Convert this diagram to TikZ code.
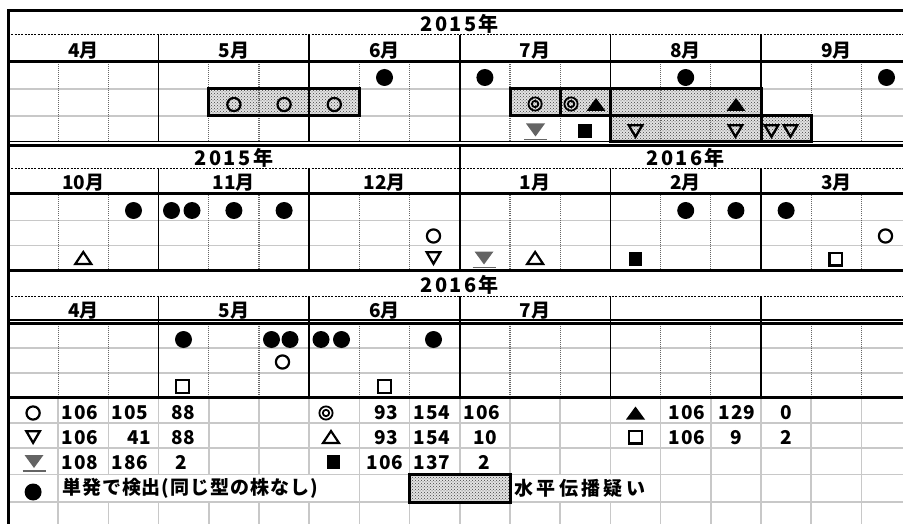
\documentclass[tikz,border=0pt]{standalone}
\usepackage{fontspec}
\setmainfont{Noto Sans CJK JP}
\newfontfamily\wideyear{Noto Sans CJK JP}[LetterSpace=12]
\newfontfamily\widenum{Noto Sans CJK JP}[LetterSpace=4]
\newfontfamily\widenote{Noto Sans CJK JP}[LetterSpace=5]
\newfontfamily\widetxt{Noto Sans CJK JP}[LetterSpace=18]
\usetikzlibrary{patterns}

\definecolor{rulegray}{RGB}{200,200,200}
\definecolor{markgray}{RGB}{100,100,100}

% значки
\newcommand{\mkDot}[2]{\fill (#1,#2) circle[radius=8.5pt];}
\newcommand{\mkRing}[2]{\draw[line width=2.2pt] (#1,#2) circle[radius=6.6pt];}
\newcommand{\mkDRing}[2]{\draw[line width=1.8pt] (#1,#2) circle[radius=6.6pt] (#1,#2) circle[radius=3.2pt];}
\newcommand{\mkUpF}[2]{\fill (#1,#2) ++(-9.5,6.5) -- ++(19,0) -- ++(-9.5,-13) -- cycle;}
\newcommand{\mkUp}[2]{\draw[line width=2.2pt,line join=miter] (#1,#2) ++(-8,6) -- ++(16,0) -- ++(-8,-12) -- cycle;}
\newcommand{\mkDown}[2]{\draw[line width=2.3pt,line join=miter] (#1,#2) ++(-6.8,-5.8) -- ++(13.6,0) -- ++(-6.8,11.6) -- cycle;}
\newcommand{\mkDownG}[2]{\fill[markgray] (#1,#2) ++(-9.5,-6.5) -- ++(19,0) -- ++(-9.5,13) -- cycle;
  \draw[markgray,line width=1.5pt] (#1,#2) ++(-11.5,9.5) -- ++(23,0);}
\newcommand{\mkSqF}[2]{\fill (#1,#2) ++(-6.8,-6.8) rectangle ++(13.6,13.6);}
\newcommand{\mkSq}[2]{\draw[line width=2.2pt] (#1,#2) ++(-6.4,-6.4) rectangle ++(12.8,12.8);}

\tikzset{
  thickline/.style={line width=3pt},
  thinrule/.style={line width=1.2pt},
  monthline/.style={line width=1.5pt},
  minorline/.style={black!60, line width=1.3pt, dash pattern=on 1pt off 1pt},
  rowline/.style={rulegray, line width=1.5pt},
  yeardots/.style={line width=1pt, dash pattern=on 2pt off 1.3pt},
  spread/.style={fill=gray!22, postaction={pattern=crosshatch dots, pattern color=black!75}},
  spreadbox/.style={line width=3pt},
  yearlbl/.style={font=\fontsize{20}{20}\selectfont\wideyear\bfseries, inner sep=0pt},
  monlbl/.style={font=\fontsize{19}{19}\selectfont\bfseries, inner sep=0pt},
  numlbl/.style={font=\fontsize{19}{19}\selectfont\widenum\bfseries, inner sep=0pt},
  notelbl/.style={font=\fontsize{19}{19}\selectfont\widenote\bfseries, inner sep=0pt, anchor=west}
}

\begin{document}
\begin{tikzpicture}[x=1pt, y=-1pt]
\useasboundingbox (0,0) rectangle (903,524);

\def\xa{8}      % левый край
\def\cw{50.2}   % ширина столбца
\def\xe{903}    % правый край

% заливка: горизонтальный перенос
\fill[spread] ({\xa+\cw*4},89) rectangle ({\xa+\cw*7},116);
\fill[spread] ({\xa+\cw*10},89) rectangle ({\xa+\cw*15},116);
\fill[spread] ({\xa+\cw*12},116) rectangle ({\xa+\cw*16},142);
\fill[spread] ({\xa+\cw*8},474.5) rectangle ({\xa+\cw*10},502);

% серые строки
\foreach \y in {89,116,220.5,245.5,348,373,423,448,474.5,502}
  \draw[rowline] (\xa,\y) -- (\xe,\y);

% пунктир под годом
\foreach \y in {35,168.5,296}
  \draw[yeardots] (\xa,\y) -- (\xe,\y);

% тонкие столбцы
\foreach \t/\b in {62/141.5,193.5/270,323.5/397.5}
  \foreach \i in {1,2,4,5,7,8,10,11,13,14,16,17}
    \draw[minorline] ({\xa+\cw*\i},\t) -- ({\xa+\cw*\i},\b);

% границы месяцев
\foreach \t/\b in {35/141.5,168.5/270,296/397.5}
  \foreach \i in {3,6,9,12,15}
    \draw[monthline] ({\xa+\cw*\i},\t) -- ({\xa+\cw*\i},\b);
\draw[monthline] ({\xa+\cw*9},145.5) -- ({\xa+\cw*9},168.5);

% столбцы легенды
\foreach \i in {1,...,17} {
  \draw[rowline] ({\xa+\cw*\i},397.5) -- ({\xa+\cw*\i},474.5);
  \draw[rowline] ({\xa+\cw*\i},502) -- ({\xa+\cw*\i},524);
}
\foreach \i in {1,7,10,13,14,15,16,17}
  \draw[rowline] ({\xa+\cw*\i},474.5) -- ({\xa+\cw*\i},502);

% толстые линии
\foreach \y in {10.5,62,145.5,193.5,270.5,323.5,397.5}
  \draw[thickline] (\xa,\y) -- (\xe,\y);
\foreach \y in {141.5,320}
  \draw[thinrule] (\xa,\y) -- (\xe,\y);
\draw[thickline] (\xa,9) -- (\xa,524);

% рамки переноса
\draw[spreadbox] ({\xa+\cw*4},89) rectangle ({\xa+\cw*7},116);
\draw[spreadbox] ({\xa+\cw*10},89) rectangle ({\xa+\cw*11},116);
\draw[spreadbox] ({\xa+\cw*11},89) rectangle ({\xa+\cw*12},116);
\draw[spreadbox] ({\xa+\cw*12},89) rectangle ({\xa+\cw*15},116);
\draw[spreadbox] ({\xa+\cw*12},116) rectangle ({\xa+\cw*15},142);
\draw[spreadbox] ({\xa+\cw*15},116) rectangle ({\xa+\cw*16},142);
\draw[spreadbox] ({\xa+\cw*8},474.5) rectangle ({\xa+\cw*10},502);

% годы и месяцы
\node[yearlbl] (yr1) at (459.8,24) {2015年};
\node[yearlbl] (yr2a) at (233.9,157.5) {2015年};
\node[yearlbl] (yr2b) at (685.7,157.5) {2016年};
\node[yearlbl] (yr3) at (459.8,285) {2016年};
\foreach \m [count=\k from 0] in {4,5,6,7,8,9}
  \node[monlbl] (ma\k) at ({\xa+\cw*(3*\k+1.5)},51) {\m 月};
\foreach \m [count=\k from 0] in {10,11,12,1,2,3}
  \node[monlbl] (mb\k) at ({\xa+\cw*(3*\k+1.5)},182.5) {\m 月};
\foreach \m [count=\k from 0] in {4,5,6,7}
  \node[monlbl] (mc\k) at ({\xa+\cw*(3*\k+1.5)},310.5) {\m 月};

% 2015 апрель-сентябрь
\foreach \x in {384.5,484.9,685.7,886.5} {\mkDot{\x}{77.5}}
\foreach \x in {233.9,284.1,334.3} {\mkRing{\x}{104.5}}
\mkDRing{535.1}{104}
\mkDRing{571}{104}
\mkUpF{596}{104.5}
\mkUpF{736}{104.5}
\mkDownG{535.5}{130}
\mkSqF{585}{131}
\foreach \x in {635.5,735.5,771.5,790.5} {\mkDown{\x}{131}}

% 2015-2016 октябрь-март
\foreach \x in {133.5,171.5,192,233.9,284.1,685.7,735.9,786.1} {\mkDot{\x}{210.5}}
\foreach \x in {433.5,885.5} {\mkRing{\x}{236}}
\mkUp{83.3}{258}
\mkDown{433.5}{258}
\mkDownG{484}{258}
\mkUp{535.1}{258}
\mkSqF{635.5}{259}
\mkSq{835.9}{259}

% 2016 апрель-июль
\foreach \x in {183.5,271.5,290,321,341.5,433.5} {\mkDot{\x}{339.5}}
\mkRing{282.5}{362}
\mkSq{182.5}{386.5}
\mkSq{384.5}{386.5}

% легенда
\mkRing{33.1}{413}
\mkDRing{326}{413}
\mkUpF{635.5}{413}
\mkDown{33.1}{437}
\mkUp{331}{437}
\mkSq{635.5}{437}
\mkDownG{34}{461.5}
\mkSqF{333.5}{462}
\mkDot{33.1}{492}

\foreach \x/\t [count=\k] in {80/106,130/105,183/88,386/93,432/154,482/106,687/106,737/129,786/0}
  \node[numlbl] (na\k) at (\x,412.5) {\t};
\foreach \x/\t [count=\k] in {80/106,139/41,183/88,386/93,432/154,485/10,687/106,736.5/9,786/2}
  \node[numlbl] (nb\k) at (\x,437.5) {\t};
\foreach \x/\t [count=\k] in {80/108,130/186,181/2,385/106,432/137,484/2}
  \node[numlbl] (nc\k) at (\x,462.5) {\t};

\node[notelbl] (single) at (62,488) {単発で検出(同じ型の株なし)};
\node[notelbl, font=\fontsize{19}{19}\selectfont\widetxt\bfseries] (hgt) at (514,488) {水平伝播疑い};
\end{tikzpicture}
\end{document}
